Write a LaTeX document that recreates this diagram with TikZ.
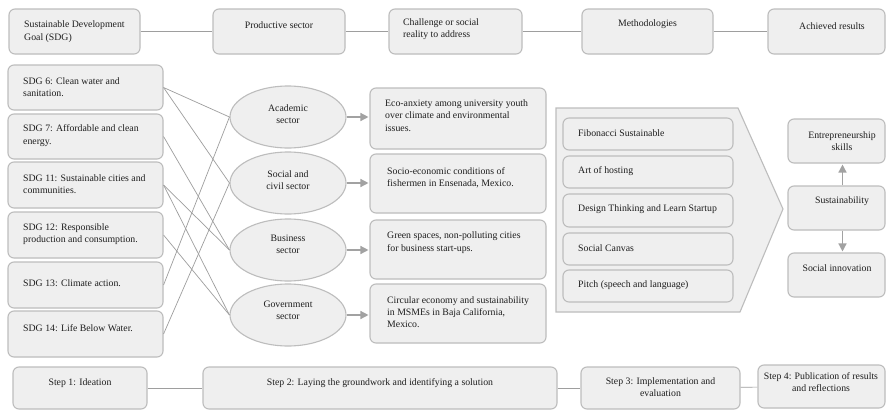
\documentclass[tikz,border=0pt]{standalone}
\usepackage{fontspec}
\setmainfont{Liberation Serif}
\usetikzlibrary{shapes.geometric,arrows.meta}

\definecolor{boxfill}{HTML}{EFEFEF}
\definecolor{boxline}{HTML}{BDBDBD}
\definecolor{wire}{HTML}{9E9E9E}
\definecolor{arrowgray}{HTML}{A2A2A2}
\definecolor{inktext}{HTML}{1E1E1E}

% rounded box given by its corners: name, x1, y1, x2, y2
\newcommand\boxat[5]{%
  \node[box, minimum width={(#4-#2)*1pt}, minimum height={(#5-#3)*1pt}]
    (#1) at ({(#2+#4)/2},{(#3+#5)/2}) {};}

\tikzset{
  box/.style={draw=boxline, fill=boxfill, rounded corners=6pt, line width=1.1pt, inner sep=0pt},
  sector/.style={ellipse, draw=boxline, fill=boxfill, line width=1.1pt, inner sep=0pt,
                 minimum width=116pt, minimum height=62pt},
  txt/.style={inner sep=0pt, text=inktext, font=\fontsize{9.8}{12.3}\selectfont},
  link/.style={draw=wire, line width=0.7pt},
  flow/.style={draw=arrowgray, line width=1.4pt,
               -{Triangle[length=8pt,width=8pt]}, shorten >=1pt},
}

\begin{document}
\begin{tikzpicture}[x=1pt,y=-1pt]
\useasboundingbox[fill=white] (0,0) rectangle (887,410);

% ---- header row ----
\boxat{hsdg}{9}{9}{140}{54}
\boxat{hprod}{213}{9}{345}{54}
\boxat{hchal}{389}{9}{522}{54}
\boxat{hmeth}{582}{9}{713}{54}
\boxat{hres}{768}{9}{885}{54}
\draw[link] (hsdg) -- (hprod);
\draw[link] (hprod) -- (hchal);
\draw[link] (hchal) -- (hmeth);
\draw[link] (hmeth) -- (hres);
\node[txt, anchor=west, align=left] at (24,31.5) {Sustainable Development\\Goal (SDG)};
\node[txt] at (279,25) {Productive sector};
\node[txt, anchor=west, align=left] at (403,29) {Challenge or social\\reality to address};
\node[txt] at (647.5,24) {Methodologies};
\node[txt] at (832,26) {Achieved results};

% ---- SDG column ----
\boxat{s6}{8}{65}{163}{110}
\boxat{s7}{8}{114}{163}{159}
\boxat{s11}{8}{162}{163}{208}
\boxat{s12}{8}{212}{163}{258}
\boxat{s13}{8}{262}{163}{308}
\boxat{s14}{8}{311}{163}{357}
\node[txt, anchor=west, align=left] at (23,87) {SDG 6: Clean water and\\sanitation.};
\node[txt, anchor=west, align=left] at (23,135.5) {SDG 7: Affordable and clean\\energy.};
\node[txt, anchor=west, align=left] at (23,184) {SDG 11: Sustainable cities and\\communities.};
\node[txt, anchor=west, align=left] at (23,234) {SDG 12: Responsible\\production and consumption.};
\node[txt, anchor=west] at (23,283) {SDG 13: Climate action.};
\node[txt, anchor=west] at (23,328) {SDG 14: Life Below Water.};

% ---- productive sectors ----
\node[sector] (acad) at (288,117) {};
\node[sector] (soc)  at (288,183) {};
\node[sector] (bus)  at (288,250) {};
\node[sector] (gov)  at (288,315) {};
\node[txt, align=center] at (288,114) {Academic\\sector};
\node[txt, align=center] at (288,180) {Social and\\civil sector};
\node[txt, align=center] at (288,244) {Business\\sector};
\node[txt, align=center] at (288,310) {Government\\sector};

% SDG -> sector links
\draw[link] (s6.east)  -- (acad.west);
\draw[link] (s6.east)  -- (soc.west);
\draw[link] (s7.east)  -- (bus.west);
\draw[link] (s11.east) -- (bus.west);
\draw[link] (s11.east) -- (gov.west);
\draw[link] (s12.east) -- (gov.west);
\draw[link] (s13.east) -- (acad.west);
\draw[link] (s14.east) -- (soc.west);

% ---- challenges ----
\boxat{ceco}{370}{88}{546}{149}
\boxat{csoc}{370}{154}{546}{213}
\boxat{cgrn}{370}{220}{546}{279}
\boxat{ccir}{370}{284}{546}{343}
\node[txt, anchor=west, align=left] at (385,115.5) {Eco-anxiety among university youth\\over climate and environmental\\issues.};
\node[txt, anchor=west, align=left] at (387,178) {Socio-economic conditions of\\fishermen in Ensenada, Mexico.};
\node[txt, anchor=west, align=left] at (387,242.5) {Green spaces, non-polluting cities\\for business start-ups.};
\node[txt, anchor=west, align=left] at (387,312) {Circular economy and sustainability\\in MSMEs in Baja California,\\Mexico.};
\draw[flow] (acad.east) -- (ceco.west |- acad.east);
\draw[flow] (soc.east)  -- (csoc.west |- soc.east);
\draw[flow] (bus.east)  -- (cgrn.west |- bus.east);
\draw[flow] (gov.east)  -- (ccir.west |- gov.east);

% ---- methodologies chevron ----
\draw[draw=boxline, fill=boxfill, line width=1.1pt]
  (556,108) -- (738,108) -- (783,209) -- (740,312) -- (556,312) -- cycle;
\boxat{mfib}{563}{118}{733}{150}
\boxat{mart}{563}{156}{733}{188}
\boxat{mdes}{563}{194}{733}{227}
\boxat{mcan}{563}{233}{733}{265}
\boxat{mpit}{563}{270}{733}{302}
\node[txt, anchor=west] at (578,133) {Fibonacci Sustainable};
\node[txt, anchor=west] at (578,171) {Art of hosting};
\node[txt, anchor=west] at (578,209) {Design Thinking and Learn Startup};
\node[txt, anchor=west] at (578,248) {Social Canvas};
\node[txt, anchor=west] at (578,285) {Pitch (speech and language)};

% ---- results ----
\boxat{rent}{788}{119}{885}{163}
\boxat{rsus}{788}{186}{885}{230}
\boxat{rinn}{788}{253}{885}{297}
\node[txt, align=center] at (842,141) {Entrepreneurship\\skills};
\node[txt] at (842,201) {Sustainability};
\node[txt] at (837,268) {Social innovation};
\draw[flow] ([xshift=6pt]rsus.north) -- ([xshift=6pt]rent.south);
\draw[flow] ([xshift=6pt]rsus.south) -- ([xshift=6pt]rinn.north);

% ---- steps row ----
\boxat{st1}{13}{367}{147}{409}
\boxat{st2}{203}{367}{557}{409}
\boxat{st3}{581}{367}{740}{409}
\boxat{st4}{758}{365}{885}{408}
\draw[link] (st1) -- (st2);
\draw[link] (st2) -- (st3);
\draw[link] (st3) -- (st4);
\node[txt] at (80,383) {Step 1: Ideation};
\node[txt] at (380,383) {Step 2: Laying the groundwork and identifying a solution};
\node[txt, align=center] at (660.5,387) {Step 3: Implementation and\\evaluation};
\node[txt, align=center] at (821,382) {Step 4: Publication of results\\and reflections};
\end{tikzpicture}
\end{document}
